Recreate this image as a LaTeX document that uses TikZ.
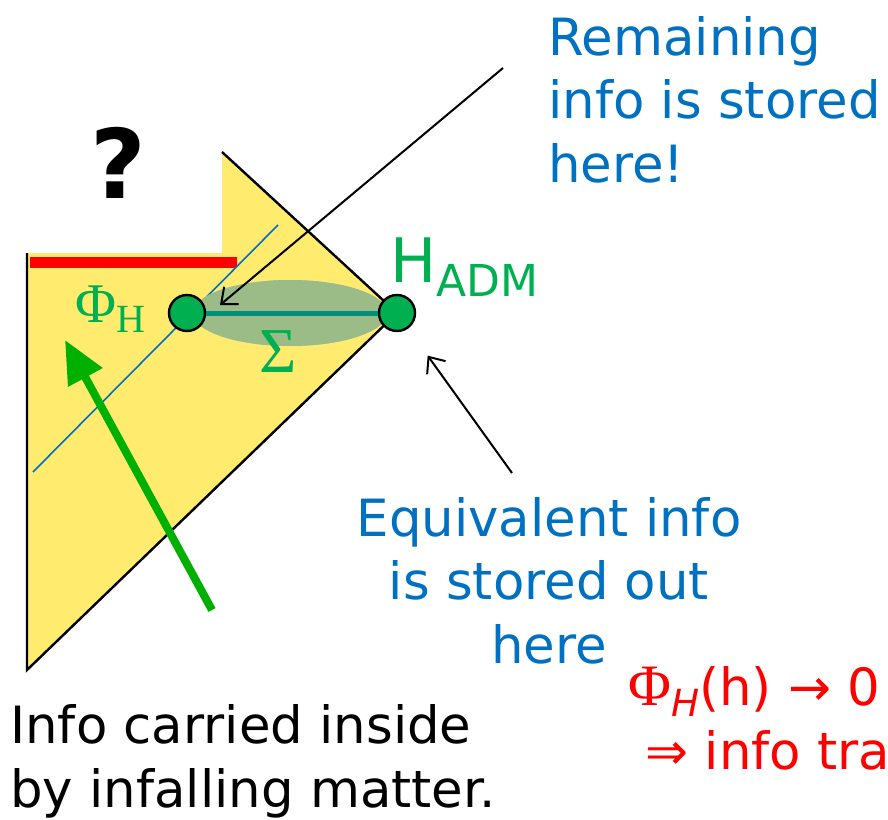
\documentclass[tikz,border=0pt]{standalone}
\usepackage{fontspec}
\setmainfont{DejaVu Sans}
\newfontfamily\greekserif{Liberation Serif}
\usetikzlibrary{arrows.meta}
\definecolor{wedge}{HTML}{FFEB6E}
\definecolor{noteblue}{HTML}{0070C0}
\definecolor{dotgreen}{HTML}{00B050}
\definecolor{infall}{HTML}{00B000}
\definecolor{slice}{HTML}{008F7A}
\definecolor{sliceblue}{HTML}{9DC3E6}
\definecolor{sliceolive}{HTML}{9BBB87}
\definecolor{trapred}{HTML}{FF0000}

\begin{document}
\begin{tikzpicture}[x=0.75pt,y=-0.75pt,
  dot/.style={circle, draw=black, line width=1.8pt, fill=dotgreen, minimum size=27pt, inner sep=0pt},
  note/.style={inner sep=0pt, font=\fontsize{38.5}{47.5}\selectfont},
  pointer/.style={line width=1.5pt, -{Straight Barb[length=10pt,width=17pt]}}]
\useasboundingbox (0,0) rectangle (888,820);
% Penrose wedge
\fill[wedge] (27,253) -- (222,253) -- (222,152) -- (397,313) -- (27,670) -- cycle;
\fill[trapred] (30,257) rectangle (237,268);
\draw[noteblue, line width=1.2pt] (33,472) -- (278,225);
\draw[line width=1.8pt] (222,152) -- (397,313) -- (27,670) -- (27,253);
% slice Sigma
\fill[sliceblue] (290,313) ellipse [x radius=72.75pt, y radius=24.75pt];
\begin{scope}
  \clip (27,253) -- (222,253) -- (222,152) -- (397,313) -- (27,670) -- cycle;
  \fill[sliceolive] (290,313) ellipse [x radius=72.75pt, y radius=24.75pt];
\end{scope}
\node[dot] (phiH) at (187,313) {};
\node[dot] (hadm) at (397,313) {};
\draw[slice, line width=3.75pt] (phiH) -- (hadm);

% pointers
\coordinate (remTail) at (503,68);
\coordinate (remTip) at (220,305);
\draw[pointer] (remTail) -- (remTip);
\coordinate (eqTail) at (512,473);
\draw[pointer, shorten >=25pt] (eqTail) -- (hadm);
\coordinate (fallTail) at (212,610);
\coordinate (fallTip) at (65,340);
\draw[infall, line width=6pt, -{Triangle[length=32pt,width=28pt]}] (fallTail) -- (fallTip);

% labels
\node[inner sep=0pt, font=\fontsize{72}{80}\selectfont\bfseries] (quest) at (118,163) {?};
\node[dotgreen, inner sep=0pt, anchor=base west] (phiLabel) at (75,322)
  {\greekserif\fontsize{42}{48}\selectfont Φ\raisebox{-8pt}{\fontsize{30}{36}\selectfont H}};
\node[dotgreen, inner sep=0pt, anchor=base] (sigma) at (278,372)
  {\greekserif\fontsize{48}{52}\selectfont Σ};
\node[dotgreen, inner sep=0pt, anchor=base west] (hadmLabel) at (390,282)
  {\fontsize{46}{50}\selectfont H\raisebox{-11pt}{\fontsize{33}{36}\selectfont ADM}};
\node[note, noteblue, anchor=base west, align=left] (remaining) at (548,182)
  {Remaining\\info is stored\\here!};
\node[note, noteblue, anchor=base, align=center] (equivalent) at (549,663)
  {Equivalent info\\is stored out\\here};
\node[note, anchor=base west, align=left] (infallNote) at (10,807)
  {Info carried inside\\by infalling matter.};
\node[note, trapred, anchor=base west, align=left] (trapNote) at (628,769)
  {{\greekserif\fontsize{44}{48}\selectfont Φ}\raisebox{-8pt}{\fontsize{28}{32}\selectfont\itshape H}(h) → 0\\\hspace{13pt}⇒ info tra};
\end{tikzpicture}
\end{document}
